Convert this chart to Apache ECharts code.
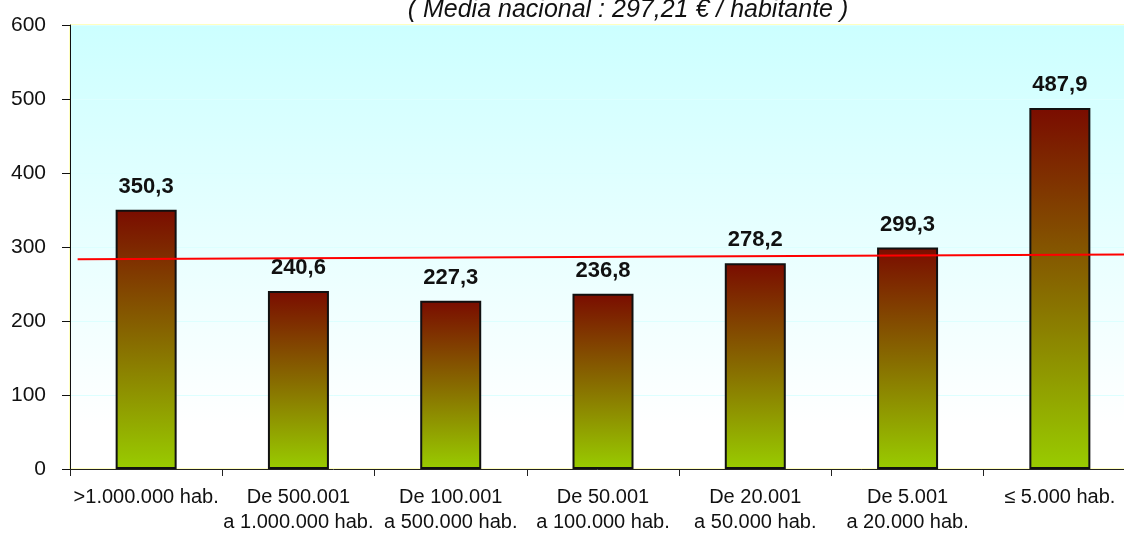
<!DOCTYPE html>
<html>
<head>
<meta charset="utf-8">
<script src="https://cdn.jsdelivr.net/npm/echarts@6/dist/echarts.min.js"></script>
<style>
  html, body { margin: 0; padding: 0; background: #fff; }
  #chart { width: 1124px; height: 536px; }
</style>
</head>
<body>
<div id="chart"></div>
<script>
// tramos de población
const categories = [
    '>1.000.000 hab.',
    'De 500.001\na 1.000.000 hab.',
    'De 100.001\na 500.000 hab.',
    'De 50.001\na 100.000 hab.',
    'De 20.001\na 50.000 hab.',
    'De 5.001\na 20.000 hab.',
    '\u2264 5.000 hab.'
];
// gasto por habitante (€)
const values = [350.3, 240.6, 227.3, 236.8, 278.2, 299.3, 487.9];
const yTicks = [0, 100, 200, 300, 400, 500, 600];
// línea de tendencia (x en unidades de categoría, y en €)
const trendX = [0.05, 7];
const trendY = [283.5, 290];
const titleText = '( Media nacional : 297,21 \u20ac / habitante )';

const chart = echarts.init(document.getElementById('chart'), null, { renderer: 'canvas' });

const option = {
    animation: false,
    textStyle: { fontFamily: 'Liberation Sans, Arial, sans-serif' },
    title: {
        text: titleText,
        left: 628,
        textAlign: 'center',
        top: -2,
        padding: 0,
        z: 10,
        textStyle: {
            fontSize: 25,
            fontStyle: 'italic',
            fontWeight: 'normal',
            color: '#111'
        }
    },
    grid: {
        left: 70,
        top: 25,
        width: 1066,
        height: 444,
        outerBoundsMode: 'none',
        containLabel: false,
        show: true,
        borderColor: '#ffff80',
        borderWidth: 1,
        backgroundColor: new echarts.graphic.LinearGradient(0, 0, 0, 1, [
            { offset: 0, color: '#ccffff' },
            { offset: 0.9, color: '#ffffff' },
            { offset: 1, color: '#ffffff' }
        ])
    },
    xAxis: [{
        type: 'category',
        data: categories,
        axisLine: { lineStyle: { color: '#222', width: 1 } },
        axisTick: { show: true, length: 7, lineStyle: { color: '#222' } },
        axisLabel: {
            interval: 0,
            fontSize: 20,
            color: '#111',
            margin: 16,
            lineHeight: 25,
            verticalAlign: 'top',
            hideOverlap: false
        }
    }, {
        type: 'value',
        min: 0,
        max: 7,
        show: false
    }],
    yAxis: {
        type: 'value',
        min: yTicks[0],
        max: yTicks[yTicks.length - 1],
        interval: 100,
        splitLine: { show: true, lineStyle: { color: '#ddffff', width: 1 } },
        axisLine: { show: true, lineStyle: { color: '#111' } },
        axisTick: { show: true, length: 8, lineStyle: { color: '#111' } },
        axisLabel: { fontSize: 21, color: '#111', margin: 24 }
    },
    series: [{
        type: 'bar',
        data: values,
        barWidth: 61,
        itemStyle: {
            borderColor: '#111',
            borderWidth: 2,
            color: new echarts.graphic.LinearGradient(0, 0, 0, 1, [
                { offset: 0, color: '#7a0c00' },
                { offset: 0.5, color: '#876a00' },
                { offset: 1, color: '#99cc00' }
            ])
        },
        label: {
            show: true,
            position: 'top',
            distance: 12,
            fontSize: 22,
            fontWeight: 'bold',
            color: '#111',
            formatter: p => p.value.toFixed(1).replace('.', ',')
        },
        z: 2
    }, {
        type: 'line',
        xAxisIndex: 1,
        data: [[trendX[0], trendY[0]], [trendX[1], trendY[1]]],
        symbol: 'none',
        lineStyle: { color: '#ff0000', width: 2 },
        z: 3
    }]
};

chart.setOption(option);
</script>
</body>
</html>
